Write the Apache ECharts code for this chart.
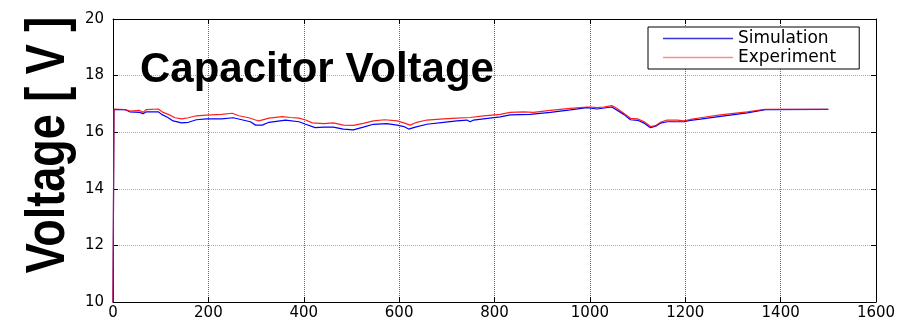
<!DOCTYPE html>
<html>
<head>
<meta charset="utf-8">
<script src="https://cdn.jsdelivr.net/npm/echarts@6/dist/echarts.min.js"></script>
<style>
  html, body { margin: 0; padding: 0; background: #fff; }
  #chart { width: 910px; height: 325px; }
</style>
</head>
<body>
<div id="chart"></div>
<script>
// Time axis ticks and voltage axis ticks
var xTicks = [0, 200, 400, 600, 800, 1000, 1200, 1400, 1600];
var yTicks = [10, 12, 14, 16, 18, 20];

// Simulated capacitor voltage [time, V]
var simulation = [
  [0, 10], [2, 16.8], [25, 16.8], [35, 16.72], [56, 16.7], [63, 16.65], [70, 16.72], [95, 16.72],
  [102, 16.63], [116, 16.51], [126, 16.4], [144, 16.33], [158, 16.35], [175, 16.44], [196, 16.47],
  [228, 16.47], [252, 16.51], [270, 16.44], [288, 16.37], [299, 16.25], [313, 16.25], [327, 16.35],
  [362, 16.43], [390, 16.37], [404, 16.28], [424, 16.16], [442, 16.18], [462, 16.18], [483, 16.11],
  [504, 16.08], [525, 16.18], [546, 16.28], [574, 16.3], [596, 16.25], [610, 16.2], [620, 16.11],
  [634, 16.18], [658, 16.28], [693, 16.35], [721, 16.4], [742, 16.43], [749, 16.37], [756, 16.43],
  [777, 16.47], [812, 16.54], [833, 16.61], [875, 16.63], [917, 16.7], [959, 16.79], [994, 16.87],
  [1015, 16.82], [1046, 16.89], [1071, 16.63], [1085, 16.44], [1100, 16.42], [1114, 16.32],
  [1127, 16.16], [1138, 16.21], [1148, 16.32], [1162, 16.37], [1197, 16.37], [1211, 16.42],
  [1232, 16.46], [1274, 16.56], [1330, 16.68], [1368, 16.8], [1500, 16.81]
];

// Measured capacitor voltage [time, V]
var experiment = [
  [0, 10], [2, 16.82], [25, 16.8], [35, 16.75], [56, 16.77], [63, 16.7], [70, 16.8], [95, 16.82],
  [105, 16.7], [116, 16.63], [130, 16.51], [144, 16.47], [158, 16.51], [175, 16.58], [196, 16.6],
  [228, 16.63], [250, 16.67], [264, 16.58], [285, 16.51], [299, 16.43], [306, 16.4], [327, 16.5],
  [355, 16.55], [372, 16.52], [390, 16.5], [404, 16.43], [418, 16.33], [442, 16.3], [462, 16.33],
  [483, 16.25], [504, 16.24], [525, 16.31], [546, 16.4], [570, 16.44], [596, 16.4], [610, 16.33],
  [623, 16.25], [637, 16.35], [658, 16.43], [693, 16.47], [721, 16.5], [749, 16.52], [777, 16.58],
  [812, 16.63], [833, 16.7], [861, 16.72], [882, 16.7], [917, 16.77], [959, 16.84], [994, 16.89],
  [1001, 16.89], [1015, 16.87], [1029, 16.89], [1046, 16.94], [1057, 16.84], [1071, 16.67],
  [1085, 16.49], [1100, 16.47], [1114, 16.37], [1127, 16.2], [1138, 16.23], [1148, 16.35],
  [1162, 16.43], [1183, 16.43], [1197, 16.4], [1211, 16.45], [1232, 16.51], [1274, 16.61],
  [1330, 16.72], [1368, 16.81], [1500, 16.81]
];

var seriesNames = ['Simulation', 'Experiment'];
var chartTitle = 'Capacitor Voltage';
var yAxisTitle = 'Voltage [ V ]';

var chart = echarts.init(document.getElementById('chart'), null, { renderer: 'canvas' });

var xMin = xTicks[0], xMax = xTicks[xTicks.length - 1];
var yMin = yTicks[0], yMax = yTicks[yTicks.length - 1];
var xStep = xTicks[1] - xTicks[0], yStep = yTicks[1] - yTicks[0];

var labelFont = { fontFamily: 'DejaVu Sans', fontSize: 15, color: '#000' };
function plainNumber(v) { return String(v); }

function boxAxis(base) {
  return Object.assign({
    type: 'value',
    axisLine: { show: true, onZero: false, lineStyle: { color: '#000', width: 1 } },
    axisTick: { show: true, inside: true, length: 5, lineStyle: { color: '#000' } }
  }, base);
}

chart.setOption({
  animation: false,
  backgroundColor: '#fff',
  grid: { left: 113, right: 34, top: 19, bottom: 23 },
  xAxis: [
    boxAxis({
      position: 'bottom', min: xMin, max: xMax, interval: xStep,
      axisLabel: Object.assign({ margin: 4, formatter: plainNumber }, labelFont),
      splitLine: { show: true, lineStyle: { color: '#666', type: 'dotted', width: 1 } }
    }),
    boxAxis({
      position: 'top', min: xMin, max: xMax, interval: xStep,
      axisLabel: { show: false }, splitLine: { show: false }
    })
  ],
  yAxis: [
    boxAxis({
      position: 'left', min: yMin, max: yMax, interval: yStep,
      axisLabel: Object.assign({ margin: 9, formatter: plainNumber }, labelFont),
      splitLine: { show: true, lineStyle: { color: '#aaa', type: 'dotted', width: 1 } }
    }),
    boxAxis({
      position: 'right', min: yMin, max: yMax, interval: yStep,
      axisLabel: { show: false }, splitLine: { show: false }
    })
  ],
  legend: {
    orient: 'vertical',
    left: 648, top: 27,
    padding: [2, 23, 2, 15],
    itemGap: 0,
    itemWidth: 70,
    itemHeight: 1.5,
    borderColor: '#000', borderWidth: 1,
    backgroundColor: '#fff',
    textStyle: { fontFamily: 'DejaVu Sans', fontSize: 17, lineHeight: 19, color: '#000' },
    data: [
      { name: seriesNames[0], icon: 'rect', itemStyle: { color: '#3535d8' } },
      { name: seriesNames[1], icon: 'rect', itemStyle: { color: '#ff8a8a' } }
    ]
  },
  graphic: [
    {
      type: 'text', x: 140, y: 70, z: 10,
      style: {
        text: chartTitle, fill: '#000',
        font: 'bold 42px "Liberation Sans", Arial, sans-serif',
        align: 'left', verticalAlign: 'middle'
      }
    },
    {
      type: 'text', x: 48, y: 145, rotation: Math.PI / 2, scaleY: 1.25, z: 10,
      style: {
        text: yAxisTitle, fill: '#000',
        font: 'bold 45px "Liberation Sans", Arial, sans-serif',
        align: 'center', verticalAlign: 'middle'
      }
    }
  ],
  series: [
    {
      name: seriesNames[0], type: 'line', data: simulation,
      xAxisIndex: 0, yAxisIndex: 0,
      showSymbol: false, symbol: 'none',
      lineStyle: { color: '#0000ff', width: 1.2 },
      itemStyle: { color: '#0000ff' },
      z: 3
    },
    {
      name: seriesNames[1], type: 'line', data: experiment,
      xAxisIndex: 0, yAxisIndex: 0,
      showSymbol: false, symbol: 'none',
      lineStyle: { color: '#ff0000', width: 1.2, opacity: 0.88 },
      itemStyle: { color: '#ff0000' },
      z: 4
    }
  ]
});
</script>
</body>
</html>
